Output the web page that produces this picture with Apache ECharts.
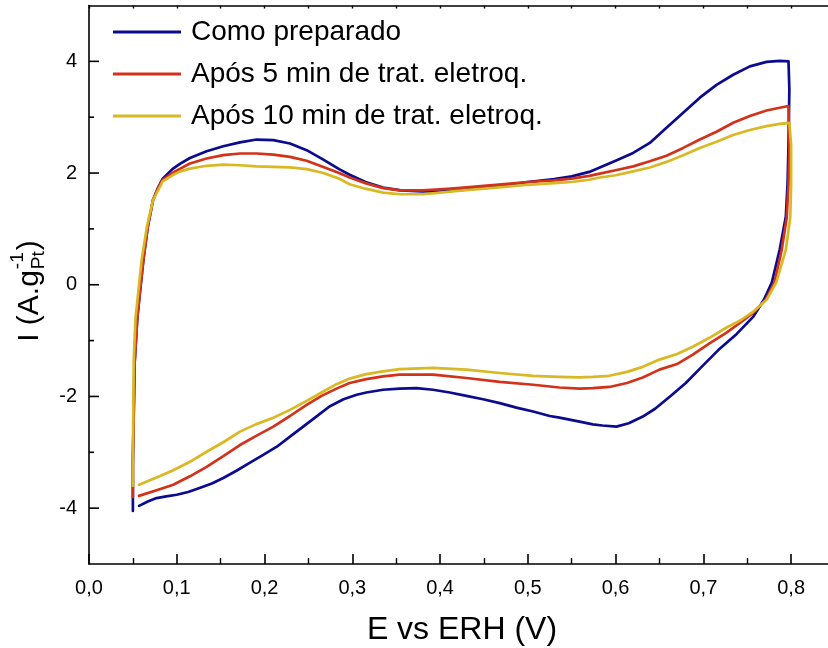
<!DOCTYPE html>
<html>
<head>
<meta charset="utf-8">
<script src="https://cdn.jsdelivr.net/npm/echarts@6/dist/echarts.min.js"></script>
<style>
  html, body { margin: 0; padding: 0; background: #fff; }
  #chart { width: 828px; height: 648px; }
</style>
</head>
<body>
<div id="chart"></div>
<script>
// Cyclic voltammograms: anodic sweep 0.05 -> 0.80 V, then cathodic sweep back.
const seriesNames = ['Como preparado', 'Após 5 min de trat. eletroq.', 'Após 10 min de trat. eletroq.'];
const seriesColors = ['#0b0b8f', '#d2321a', '#d9b824'];

const comoE = [0.050, 0.050, 0.052, 0.055, 0.058, 0.062, 0.067, 0.073, 0.079, 0.084, 0.095, 0.104, 0.115, 0.134, 0.153, 0.172, 0.191, 0.210, 0.229, 0.248, 0.267, 0.285, 0.297, 0.315, 0.335, 0.355, 0.380, 0.400, 0.420, 0.450, 0.480, 0.500, 0.530, 0.550, 0.570, 0.582, 0.600, 0.620, 0.639, 0.658, 0.677, 0.696, 0.715, 0.734, 0.753, 0.772, 0.787, 0.797,
  0.798, 0.797, 0.796, 0.794, 0.787, 0.778, 0.769, 0.757, 0.738, 0.717, 0.698, 0.680, 0.662, 0.645, 0.631, 0.615, 0.601, 0.585, 0.574, 0.559, 0.536, 0.525, 0.506, 0.487, 0.468, 0.449, 0.430, 0.411, 0.392, 0.373, 0.354, 0.335, 0.316, 0.305, 0.290, 0.274, 0.259, 0.244, 0.229, 0.214, 0.198, 0.183, 0.168, 0.153, 0.140, 0.126, 0.113, 0.100, 0.088, 0.077, 0.067, 0.057];
const comoI = [-4.05, -3.20, -1.40, -0.60, -0.15, 0.45, 1.04, 1.52, 1.75, 1.90, 2.07, 2.17, 2.27, 2.39, 2.48, 2.55, 2.60, 2.59, 2.53, 2.41, 2.24, 2.07, 1.97, 1.84, 1.74, 1.69, 1.67, 1.67, 1.69, 1.74, 1.80, 1.84, 1.89, 1.94, 2.02, 2.10, 2.22, 2.36, 2.54, 2.81, 3.08, 3.35, 3.58, 3.76, 3.91, 3.99, 4.01, 4.00,
  3.50, 2.50, 1.83, 1.22, 0.63, 0.04, -0.27, -0.57, -0.88, -1.17, -1.47, -1.76, -2.00, -2.22, -2.36, -2.48, -2.54, -2.52, -2.50, -2.45, -2.38, -2.35, -2.27, -2.20, -2.12, -2.05, -1.99, -1.93, -1.88, -1.85, -1.86, -1.88, -1.93, -1.97, -2.05, -2.18, -2.36, -2.54, -2.72, -2.90, -3.05, -3.19, -3.33, -3.46, -3.56, -3.64, -3.71, -3.76, -3.79, -3.82, -3.88, -3.96];

const apos5E = [0.050, 0.050, 0.052, 0.055, 0.058, 0.062, 0.067, 0.073, 0.079, 0.084, 0.095, 0.104, 0.115, 0.134, 0.153, 0.172, 0.191, 0.210, 0.229, 0.248, 0.267, 0.285, 0.297, 0.315, 0.335, 0.355, 0.380, 0.400, 0.420, 0.450, 0.480, 0.500, 0.530, 0.550, 0.570, 0.582, 0.600, 0.620, 0.639, 0.658, 0.677, 0.696, 0.715, 0.734, 0.753, 0.772, 0.787, 0.797,
  0.798, 0.797, 0.795, 0.789, 0.781, 0.771, 0.757, 0.742, 0.726, 0.707, 0.688, 0.670, 0.650, 0.631, 0.613, 0.593, 0.574, 0.559, 0.536, 0.506, 0.468, 0.430, 0.392, 0.354, 0.335, 0.316, 0.297, 0.282, 0.265, 0.248, 0.229, 0.210, 0.190, 0.172, 0.153, 0.134, 0.115, 0.096, 0.077, 0.057];
const apos5I = [-3.80, -3.10, -1.40, -0.60, -0.12, 0.45, 1.04, 1.52, 1.74, 1.88, 2.00, 2.08, 2.17, 2.26, 2.32, 2.35, 2.35, 2.33, 2.29, 2.22, 2.11, 2.00, 1.92, 1.82, 1.73, 1.69, 1.69, 1.71, 1.73, 1.77, 1.81, 1.84, 1.87, 1.90, 1.95, 1.99, 2.05, 2.12, 2.21, 2.31, 2.45, 2.60, 2.74, 2.90, 3.02, 3.12, 3.17, 3.20,
  2.50, 1.80, 1.20, 0.60, 0.04, -0.27, -0.50, -0.68, -0.86, -1.05, -1.25, -1.42, -1.52, -1.66, -1.76, -1.83, -1.85, -1.86, -1.84, -1.79, -1.74, -1.67, -1.61, -1.61, -1.64, -1.69, -1.76, -1.86, -1.99, -2.15, -2.35, -2.54, -2.71, -2.87, -3.07, -3.26, -3.43, -3.58, -3.68, -3.78];

const apos10E = [0.050, 0.050, 0.051, 0.053, 0.056, 0.060, 0.066, 0.073, 0.079, 0.084, 0.095, 0.104, 0.115, 0.134, 0.153, 0.172, 0.191, 0.210, 0.229, 0.248, 0.267, 0.285, 0.297, 0.315, 0.335, 0.355, 0.380, 0.400, 0.420, 0.450, 0.480, 0.500, 0.530, 0.550, 0.570, 0.582, 0.600, 0.620, 0.639, 0.658, 0.677, 0.696, 0.715, 0.734, 0.753, 0.772, 0.787, 0.798,
  0.800, 0.800, 0.799, 0.794, 0.783, 0.772, 0.757, 0.742, 0.726, 0.707, 0.688, 0.670, 0.650, 0.631, 0.613, 0.593, 0.574, 0.559, 0.536, 0.506, 0.468, 0.430, 0.392, 0.354, 0.335, 0.316, 0.297, 0.282, 0.265, 0.248, 0.229, 0.210, 0.190, 0.172, 0.153, 0.134, 0.115, 0.096, 0.077, 0.057];
const apos10I = [-3.60, -3.10, -1.34, -0.60, -0.15, 0.45, 1.04, 1.52, 1.70, 1.85, 1.96, 2.03, 2.08, 2.13, 2.15, 2.14, 2.12, 2.11, 2.10, 2.07, 2.00, 1.90, 1.80, 1.72, 1.65, 1.62, 1.62, 1.65, 1.68, 1.72, 1.76, 1.79, 1.82, 1.84, 1.88, 1.92, 1.96, 2.03, 2.10, 2.20, 2.32, 2.45, 2.56, 2.68, 2.77, 2.84, 2.88, 2.90,
  2.50, 1.80, 1.20, 0.63, 0.04, -0.27, -0.48, -0.64, -0.77, -0.95, -1.11, -1.24, -1.34, -1.47, -1.56, -1.63, -1.65, -1.66, -1.65, -1.63, -1.58, -1.52, -1.49, -1.51, -1.55, -1.60, -1.68, -1.78, -1.93, -2.08, -2.24, -2.38, -2.50, -2.63, -2.82, -2.99, -3.17, -3.32, -3.45, -3.58];

const xTicks = { min: 0, max: 0.85, step: 0.1 };
const yTicks = { min: -5, max: 5, step: 2 };
const yTickValues = [-4, -3, -2, -1, 0, 1, 2, 3, 4];

const FONT = 'Arial, "Liberation Sans", Helvetica, sans-serif';

function pairs(xs, ys) { return xs.map((x, i) => [x, ys[i]]); }
const curves = [pairs(comoE, comoI), pairs(apos5E, apos5I), pairs(apos10E, apos10I)];

const chart = echarts.init(document.getElementById('chart'), null, { renderer: 'canvas' });

const axisLine = { show: true, onZero: false, lineStyle: { color: '#000', width: 1.6 } };

chart.setOption({
  animation: false,
  backgroundColor: '#fff',
  // the frame runs past the right edge of the canvas, so keep the grid at its exact size
  grid: { left: 89, top: 5.5, width: 746, height: 558.5, containLabel: false, outerBoundsMode: 'none' },
  legend: {
    orient: 'vertical',
    left: 113,
    top: 17,
    padding: 0,
    icon: 'rect',
    itemWidth: 68,
    itemHeight: 3,
    itemGap: 12,
    data: seriesNames,
    textStyle: { fontFamily: FONT, fontSize: 28, color: '#000', lineHeight: 30, padding: [0, 0, 0, 5] }
  },
  xAxis: [
    {
      type: 'value', position: 'bottom',
      min: xTicks.min, max: xTicks.max, interval: xTicks.step,
      axisLine: axisLine,
      axisTick: { show: true, inside: true, length: 10, lineStyle: { color: '#000', width: 1.6 } },
      minorTick: { show: true, splitNumber: 2, length: 6, lineStyle: { color: '#000', width: 1.4 } },
      splitLine: { show: false },
      axisLabel: {
        color: '#000', fontFamily: FONT, fontSize: 20, margin: 14, showMaxLabel: false,
        formatter: v => v.toFixed(1).replace('.', ',')
      },
      name: 'E vs ERH (V)', nameLocation: 'middle', nameGap: 50,
      nameTextStyle: { color: '#000', fontFamily: FONT, fontSize: 32 }
    },
    {
      type: 'value', position: 'top',
      min: xTicks.min, max: xTicks.max, interval: xTicks.step / 2,
      axisLine: axisLine,
      axisTick: { show: true, inside: true, length: 3, lineStyle: { color: '#000', width: 1.4 } },
      axisLabel: { show: false },
      splitLine: { show: false }
    }
  ],
  yAxis: [
    {
      type: 'value', position: 'left',
      min: yTicks.min, max: yTicks.max, interval: 1,
      axisLine: axisLine,
      axisTick: { show: false },
      splitLine: { show: false },
      axisLabel: {
        color: '#000', fontFamily: FONT, fontSize: 20, margin: 12,
        formatter: v => (Math.abs(v) % yTicks.step === 0 && Math.abs(v) !== 5) ? String(v) : ''
      }
    },
    {
      type: 'value', position: 'right',
      min: yTicks.min, max: yTicks.max, interval: 1,
      axisLine: axisLine,
      axisTick: { show: false },
      axisLabel: { show: false },
      splitLine: { show: false }
    }
  ],
  series: curves.map((d, i) => ({
    name: seriesNames[i],
    type: 'line',
    xAxisIndex: 0,
    yAxisIndex: 0,
    data: d,
    showSymbol: false,
    symbol: 'none',
    smooth: false,
    z: 2 + i,
    color: seriesColors[i],
    lineStyle: { color: seriesColors[i], width: 2.7, join: 'round', cap: 'round' }
  })).concat([{
    // tick marks on the left axis: long at even values, short at odd ones
    type: 'custom',
    xAxisIndex: 0, yAxisIndex: 0,
    silent: true,
    data: yTickValues,
    renderItem: (params, api) => {
      const v = api.value(0);
      const p = api.coord([0, v]);
      const len = (Math.abs(v) % 2 === 0) ? 10 : 5;
      return {
        type: 'line',
        shape: { x1: p[0], y1: p[1], x2: p[0] + len, y2: p[1] },
        style: { stroke: '#000', lineWidth: 1.6 }
      };
    },
    encode: { x: -1, y: 0 }
  }])
});

// y-axis title with stacked subscript/superscript: I (A.g_Pt^-1)
const titleSize = 30, smallSize = 19;
function tw(text, size) {
  const ctx = document.createElement('canvas').getContext('2d');
  ctx.font = size + 'px ' + FONT;
  return ctx.measureText(text).width;
}
const mainText = 'I (A.g';
const w1 = tw(mainText, titleSize);
const wSub = tw('Pt', smallSize);
const wSup = tw('-1', smallSize);
const wClose = tw(')', titleSize);
const wScript = Math.max(wSub, wSup);
const totalW = w1 + 1 + wScript + 1 + wClose;
const cx = 30, cy = 291;
chart.setOption({
  graphic: [{
    type: 'group',
    x: cx, y: cy,
    rotation: Math.PI / 2,
    children: [
      { type: 'text', x: -totalW / 2, y: 0, style: { text: mainText, font: titleSize + 'px ' + FONT, fill: '#000', verticalAlign: 'middle' } },
      { type: 'text', x: -totalW / 2 + w1 + 1, y: 9, style: { text: 'Pt', font: smallSize + 'px ' + FONT, fill: '#000', verticalAlign: 'middle' } },
      { type: 'text', x: -totalW / 2 + w1 + 1, y: -12, style: { text: '-1', font: smallSize + 'px ' + FONT, fill: '#000', verticalAlign: 'middle' } },
      { type: 'text', x: -totalW / 2 + w1 + 2 + wScript, y: 0, style: { text: ')', font: titleSize + 'px ' + FONT, fill: '#000', verticalAlign: 'middle' } }
    ]
  }]
});
</script>
</body>
</html>
